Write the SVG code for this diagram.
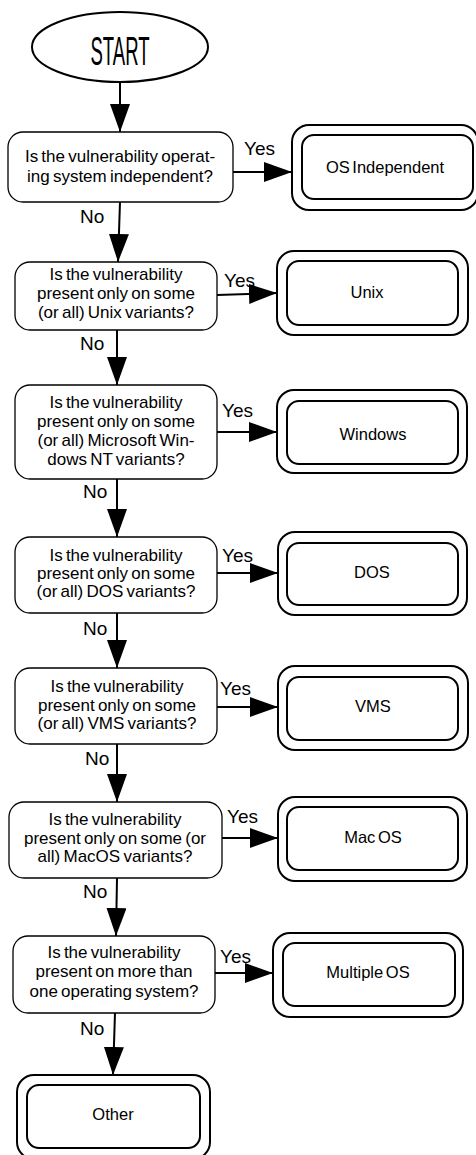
<svg xmlns="http://www.w3.org/2000/svg" width="476" height="1155" viewBox="0 0 476 1155">
<style>
text{font-family:"Liberation Sans",Arial,sans-serif;fill:#000}
.q rect{fill:#fff;stroke:#000;stroke-width:1.3}
.t rect{fill:#fff;stroke:#000;stroke-width:2}
.qt{font-size:17px;text-anchor:middle;word-spacing:-1.5px}
.tt{font-size:16.5px;text-anchor:middle;word-spacing:-2px}
.lb{font-size:19px}
.c path{fill:none;stroke:#000;stroke-width:2;marker-end:url(#ah)}
</style>
<defs>
<marker id="ah" markerUnits="userSpaceOnUse" markerWidth="30" markerHeight="20" refX="28" refY="10" orient="auto"><path d="M0,0 L28,10 L0,20 z" fill="#000"/></marker>
</defs>
<rect width="476" height="1155" fill="#fff"/>
<g id="start">
<ellipse cx="120" cy="47" rx="88" ry="35" fill="#fff" stroke="#000" stroke-width="2"/>
<text x="120" y="65" font-size="41" text-anchor="middle" textLength="59" lengthAdjust="spacingAndGlyphs">START</text>
</g>
<g id="q1" class="q"><rect x="8" y="132" width="225" height="70" rx="15"/>
<text class="qt" x="120" y="162">Is the vulnerability operat-</text>
<text class="qt" x="120" y="182">ing system independent?</text></g>
<g id="osind" class="t"><rect x="292" y="125" width="186" height="85" rx="17"/><rect x="302" y="135" width="171" height="64" rx="12"/>
<text class="tt" x="385" y="173">OS Independent</text></g>
<g id="q2" class="q"><rect x="15" y="262" width="202" height="68" rx="15"/>
<text class="qt" x="116" y="280">Is the vulnerability</text>
<text class="qt" x="116" y="299">present only on some</text>
<text class="qt" x="116" y="318">(or all) Unix variants?</text></g>
<g id="unix" class="t"><rect x="277" y="251" width="191" height="84" rx="17"/><rect x="287" y="261" width="171" height="64" rx="12"/>
<text class="tt" x="367" y="298">Unix</text></g>
<g id="q3" class="q"><rect x="15" y="385" width="202" height="94" rx="15"/>
<text class="qt" x="116" y="408">Is the vulnerability</text>
<text class="qt" x="116" y="427">present only on some</text>
<text class="qt" x="116" y="446">(or all) Microsoft Win-</text>
<text class="qt" x="116" y="465">dows NT variants?</text></g>
<g id="windows" class="t"><rect x="277" y="390" width="190" height="83" rx="17"/><rect x="287" y="401" width="171" height="63" rx="12"/>
<text class="tt" x="373" y="440">Windows</text></g>
<g id="q4" class="q"><rect x="15" y="537" width="202" height="76" rx="15"/>
<text class="qt" x="116" y="561">Is the vulnerability</text>
<text class="qt" x="116" y="579">present only on some</text>
<text class="qt" x="116" y="597">(or all) DOS variants?</text></g>
<g id="dos" class="t"><rect x="278" y="532" width="189" height="83" rx="17"/><rect x="287" y="543" width="171" height="62" rx="12"/>
<text class="tt" x="372" y="578">DOS</text></g>
<g id="q5" class="q"><rect x="15" y="668" width="202" height="76" rx="15"/>
<text class="qt" x="117" y="692">Is the vulnerability</text>
<text class="qt" x="117" y="711">present only on some</text>
<text class="qt" x="117" y="729">(or all) VMS variants?</text></g>
<g id="vms" class="t"><rect x="278" y="666" width="190" height="84" rx="17"/><rect x="287" y="677" width="171" height="63" rx="12"/>
<text class="tt" x="373" y="712">VMS</text></g>
<g id="q6" class="q"><rect x="9" y="802" width="213" height="76" rx="15"/>
<text class="qt" x="115" y="825">Is the vulnerability</text>
<text class="qt" x="115" y="844">present only on some (or</text>
<text class="qt" x="115" y="862">all) MacOS variants?</text></g>
<g id="macos" class="t"><rect x="278" y="797" width="189" height="84" rx="17"/><rect x="287" y="807" width="171" height="63" rx="12"/>
<text class="tt" x="373" y="843">Mac OS</text></g>
<g id="q7" class="q"><rect x="13" y="936" width="202" height="77" rx="15"/>
<text class="qt" x="114" y="958">Is the vulnerability</text>
<text class="qt" x="114" y="977">present on more than</text>
<text class="qt" x="114" y="997">one operating system?</text></g>
<g id="multiple" class="t"><rect x="273" y="933" width="190" height="84" rx="17"/><rect x="283" y="943" width="172" height="63" rx="12"/>
<text class="tt" x="368" y="978">Multiple OS</text></g>
<g id="other" class="t"><rect x="17" y="1075" width="193" height="84" rx="17"/><rect x="27" y="1085" width="173" height="63" rx="12"/>
<text class="tt" x="113" y="1120">Other</text></g>
<g id="connectors" class="c">
<path d="M120,82 L120,132"/>
<path d="M233,172 L292,172"/>
<path d="M120,202 L118,262"/>
<path d="M217,295 L277,293"/>
<path d="M117,330 L117,385"/>
<path d="M217,432 L277,432"/>
<path d="M117,479 L117,537"/>
<path d="M217,573 L278,573"/>
<path d="M117,613 L117,668"/>
<path d="M217,707 L278,707"/>
<path d="M117,744 L117,802"/>
<path d="M222,838 L278,838"/>
<path d="M117,878 L116,936"/>
<path d="M215,973 L273,973"/>
<path d="M115,1013 L113,1075"/>
</g>
<g id="labels">
<text class="lb" x="244" y="155">Yes</text>
<text class="lb" x="80" y="223">No</text>
<text class="lb" x="224" y="287">Yes</text>
<text class="lb" x="80" y="350">No</text>
<text class="lb" x="222" y="417">Yes</text>
<text class="lb" x="83" y="498">No</text>
<text class="lb" x="222" y="562">Yes</text>
<text class="lb" x="83" y="635">No</text>
<text class="lb" x="220" y="695">Yes</text>
<text class="lb" x="85" y="765">No</text>
<text class="lb" x="227" y="823">Yes</text>
<text class="lb" x="83" y="898">No</text>
<text class="lb" x="220" y="963">Yes</text>
<text class="lb" x="80" y="1035">No</text>
</g>
</svg>
